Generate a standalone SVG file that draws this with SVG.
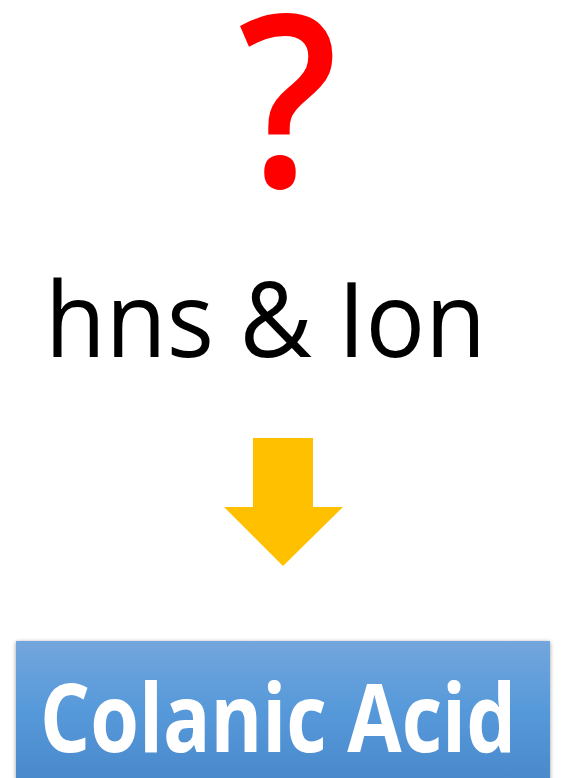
<svg xmlns="http://www.w3.org/2000/svg" width="565" height="778" viewBox="0 0 565 778">
<style>
.q{font-family:"Open Sans","Noto Sans",sans-serif;font-size:240px;font-weight:600;fill:#FF0000;}
.t{font-family:"Open Sans","Noto Sans",sans-serif;font-size:105px;fill:#000000;}
.l{font-family:"Open Sans","Noto Sans",sans-serif;font-size:95px;font-weight:bold;fill:#FFFFFF;}
</style>
<defs>
<linearGradient id="bg" x1="0" y1="0" x2="0" y2="1">
<stop offset="0" stop-color="#73A6DC"/>
<stop offset="0.5" stop-color="#5699DA"/>
<stop offset="1" stop-color="#4A89CB"/>
</linearGradient>
<filter id="sh" x="-5%" y="-5%" width="110%" height="115%">
<feGaussianBlur in="SourceAlpha" stdDeviation="2"/>
<feOffset dx="0" dy="1"/>
<feComponentTransfer><feFuncA type="linear" slope="0.4"/></feComponentTransfer>
<feMerge><feMergeNode/><feMergeNode in="SourceGraphic"/></feMerge>
</filter>
</defs>
<g id="question">
<text class="q" x="288" y="187" text-anchor="middle" textLength="100" lengthAdjust="spacingAndGlyphs">?</text>
</g>
<g id="hns-ion">
<text class="t" x="45" y="357" textLength="441" lengthAdjust="spacingAndGlyphs">hns &amp; Ion</text>
</g>
<g id="connectors">
<polygon points="253,438 313,438 313,507 343,507 283,566 224,507 253,507" fill="#FFC000"/>
</g>
<g id="colanic-acid">
<rect x="16" y="641" width="534" height="140" fill="url(#bg)" filter="url(#sh)"/>
<text class="l" x="40" y="752" textLength="476" lengthAdjust="spacingAndGlyphs">Colanic Acid</text>
</g>
</svg>
